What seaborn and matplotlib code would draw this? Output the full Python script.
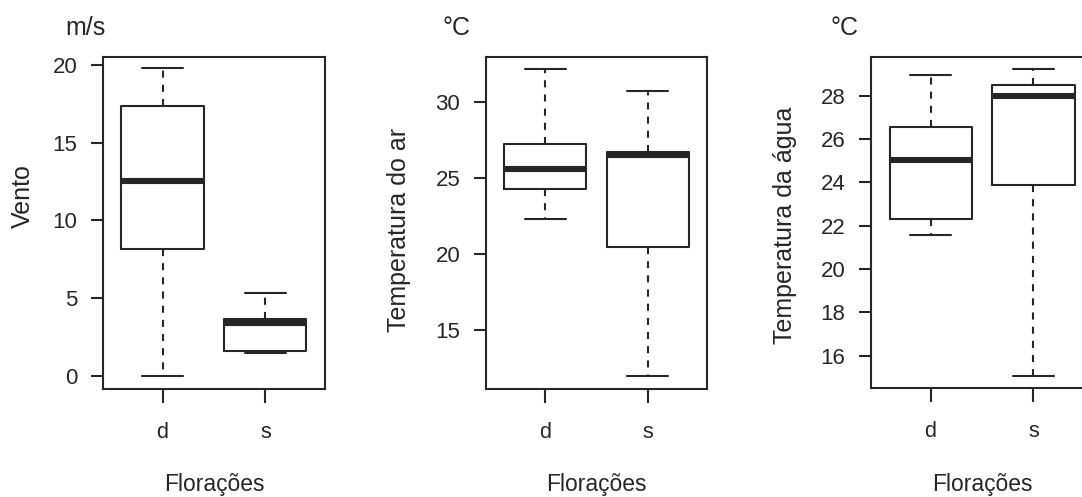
import numpy as np
import pandas as pd
import matplotlib
matplotlib.use("Agg")
import matplotlib.pyplot as plt
import seaborn as sns

# Five-number summaries (min, Q1, median, Q3, max) per flowering type
grupos = ["d", "s"]

vento_d = [0.00, 8.17, 12.54, 17.34, 19.79]
vento_s = [1.46, 1.61, 3.39, 3.64, 5.36]

tar_d = [22.33, 24.27, 25.63, 27.27, 32.21]
tar_s = [11.97, 20.45, 26.53, 26.75, 30.74]

tagua_d = [21.56, 22.32, 25.02, 26.56, 28.96]
tagua_s = [15.07, 23.89, 28.00, 28.48, 29.25]

yticks_vento = [0, 5, 10, 15, 20]
yticks_tar = [15, 20, 25, 30]
yticks_tagua = [16, 18, 20, 22, 24, 26, 28]

INK = "#262626"

sns.set_style("white")
plt.rcParams["font.family"] = ["Liberation Sans", "DejaVu Sans"]
plt.rcParams["text.color"] = INK
plt.rcParams["axes.labelcolor"] = INK
plt.rcParams["xtick.color"] = INK
plt.rcParams["ytick.color"] = INK


def frame(d_vals, s_vals):
    return pd.DataFrame({
        "Florações": ["d"] * len(d_vals) + ["s"] * len(s_vals),
        "valor": list(d_vals) + list(s_vals),
    })


W, H = 1082, 497
fig = plt.figure(figsize=(W / 100, H / 100), dpi=100)
fig.patch.set_facecolor("white")


def px_axes(left, top, right, bottom):
    return fig.add_axes([left / W, 1 - bottom / H, (right - left) / W, (bottom - top) / H])


panels = [
    dict(df=frame(vento_d, vento_s), box=(103, 57, 325, 389), ylim=(-0.84, 20.51),
         yticks=yticks_vento, unit="m/s", unit_x=65, ylabel="Vento", ylab_xy=(23, 196)),
    dict(df=frame(tar_d, tar_s), box=(486, 57, 707, 389), ylim=(11.11, 32.98),
         yticks=yticks_tar, unit="°C", unit_x=442, ylabel="Temperatura do ar", ylab_xy=(399, 230)),
    dict(df=frame(tagua_d, tagua_s), box=(871, 57, 1093, 388), ylim=(14.50, 29.79),
         yticks=yticks_tagua, unit="°C", unit_x=830, ylabel="Temperatura da água", ylab_xy=(785, 225)),
]

for p in panels:
    ax = px_axes(*p["box"])
    sns.boxplot(
        data=p["df"], x="Florações", y="valor", order=grupos, ax=ax,
        fill=False, color=INK, width=0.8, whis=(0, 100), showfliers=False,
        linewidth=1.5,
        medianprops=dict(linewidth=4.4, solid_capstyle="butt"),
        whiskerprops=dict(linestyle=(0, (3.4, 3.4))),
    )
    ax.set_xlim(-0.58, 1.58)
    ax.set_ylim(*p["ylim"])
    ax.set_yticks(p["yticks"])
    ax.set_yticklabels([str(t) for t in p["yticks"]])
    ax.set_xlabel("")
    ax.set_ylabel("")
    for s in ax.spines.values():
        s.set_visible(True)
        s.set_color(INK)
        s.set_linewidth(1.5)
    ax.tick_params(axis="y", direction="out", length=9, width=1.5, pad=9.5, labelsize=16, left=True)
    ax.tick_params(axis="x", direction="out", length=10, width=1.5, pad=14, labelsize=15.5, bottom=True)

    left, top, right, bottom = p["box"]
    fig.text(p["unit_x"] / W, 1 - 28 / H, p["unit"], fontsize=18, ha="left", va="center")
    fig.text(p["ylab_xy"][0] / W, 1 - p["ylab_xy"][1] / H, p["ylabel"], fontsize=18,
             rotation=90, ha="center", va="center")
    fig.text(((left + right) / 2) / W, 1 - 485 / H, "Florações", fontsize=16.5,
             ha="center", va="center")

fig.savefig("out.png", dpi=100, facecolor="white")
